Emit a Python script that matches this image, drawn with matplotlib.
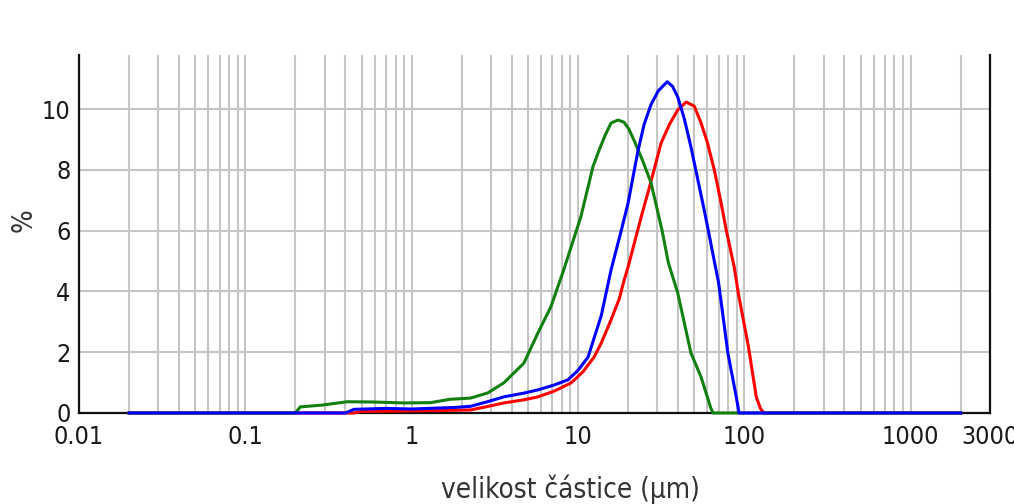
import numpy as np
import matplotlib
matplotlib.use("Agg")
import matplotlib.pyplot as plt
from matplotlib.ticker import FixedLocator, FixedFormatter, LogLocator, NullFormatter

plt.rcParams['font.family'] = ['DejaVu Sans']
plt.rcParams['font.stretch'] = 'condensed'

# particle size distributions (size in um, volume %)
red_x = [0.02, 0.45, 0.5, 1.0, 1.5, 2.26, 2.9, 3.58, 4.7, 5.74, 7.2, 9.1, 10.7, 12.5, 13.8,
         15.8, 17.7, 18.9, 20, 24, 26.9, 31.6, 35.5, 39.8, 44.7, 50, 55, 60, 66, 72, 78, 87,
         92, 106, 118, 125, 131, 2000]
red_y = [0, 0, 0.05, 0.07, 0.08, 0.1, 0.22, 0.33, 0.43, 0.53, 0.72, 0.99, 1.35, 1.84, 2.3,
         3.06, 3.75, 4.35, 4.8, 6.45, 7.43, 8.88, 9.5, 9.97, 10.23, 10.1, 9.54, 8.9, 8.0, 7.0,
         6.0, 4.8, 3.95, 2.17, 0.53, 0.15, 0, 0]

green_x = [0.02, 0.2, 0.214, 0.29, 0.41, 0.6, 0.9, 1.3, 1.7, 2.26, 2.87, 3.58, 4.73, 5.74,
           6.87, 8.2, 10.4, 12.3, 13.4, 14.6, 15.8, 17.4, 18.9, 20.2, 21.7, 24.5, 27.5, 32,
           35, 39.8, 47.8, 55, 63, 65, 2000]
green_y = [0, 0, 0.2, 0.26, 0.37, 0.36, 0.33, 0.34, 0.45, 0.49, 0.66, 0.99, 1.64, 2.63,
           3.49, 4.7, 6.45, 8.1, 8.65, 9.15, 9.54, 9.64, 9.57, 9.35, 8.98, 8.3, 7.57, 6.02,
           4.93, 3.95, 1.97, 1.18, 0.15, 0, 0]

blue_x = [0.02, 0.4, 0.45, 0.7, 1.0, 1.4, 1.8, 2.26, 2.9, 3.58, 4.7, 5.74, 7.2, 8.7, 10,
          11.5, 13.8, 15.8, 18.2, 20, 22.9, 25, 27.5, 30.4, 34.4, 37, 39.8, 43.5, 47.8, 57.4,
          60.7, 66, 70, 79.7, 89.5, 93, 2000]
blue_y = [0, 0, 0.12, 0.15, 0.13, 0.16, 0.18, 0.22, 0.38, 0.53, 0.65, 0.76, 0.92, 1.09, 1.4,
          1.84, 3.2, 4.7, 6.0, 6.9, 8.6, 9.5, 10.15, 10.6, 10.9, 10.75, 10.4, 9.7, 8.75, 6.68,
          6.02, 5.0, 4.3, 1.97, 0.53, 0, 0]

xticks = [0.01, 0.1, 1, 10, 100, 1000, 3000]
xtick_labels = ['0.01', '0.1', '1', '10', '100', '1000', '3000']
yticks = [0, 2, 4, 6, 8, 10]

fig = plt.figure(figsize=(10.14, 5.04), dpi=100)
ax = fig.add_axes([0.0779, 0.1806, 0.8984, 0.7103])

ax.plot(red_x, red_y, color='#ff0000', lw=2.2, zorder=3, clip_on=False)
ax.plot(green_x, green_y, color='#118011', lw=2.2, zorder=4, clip_on=False)
ax.plot(blue_x, blue_y, color='#0000ff', lw=2.2, zorder=5, clip_on=False)

ax.set_xscale('log')
ax.set_xlim(0.01, 3000)
ax.set_ylim(0, 11.78)

ax.xaxis.set_major_locator(FixedLocator(xticks))
ax.xaxis.set_major_formatter(FixedFormatter(xtick_labels))
ax.xaxis.set_minor_locator(LogLocator(base=10, subs=np.arange(2, 10)))
ax.xaxis.set_minor_formatter(NullFormatter())
ax.set_yticks(yticks)

ax.grid(True, which='both', axis='x', color='#c6c6c6', lw=1.5)
ax.grid(True, which='major', axis='y', color='#c6c6c6', lw=1.5)
ax.set_axisbelow(True)

ax.tick_params(axis='both', which='both', length=0, labelsize=18, colors='#1a1a1a')
ax.tick_params(axis='x', pad=9)
ax.tick_params(axis='y', pad=6)

for side in ['left', 'bottom', 'right']:
    ax.spines[side].set_color('#111111')
    ax.spines[side].set_linewidth(1.6)
ax.spines['top'].set_visible(False)

ax.set_xlabel('velikost částice (µm)', fontsize=20, color='#333333')
ax.xaxis.set_label_coords(0.54, -0.172)
ax.set_ylabel('%', fontsize=20, color='#333333')
ax.yaxis.set_label_coords(-0.045, 0.54)

fig.savefig('out.png', dpi=100, facecolor='white')
